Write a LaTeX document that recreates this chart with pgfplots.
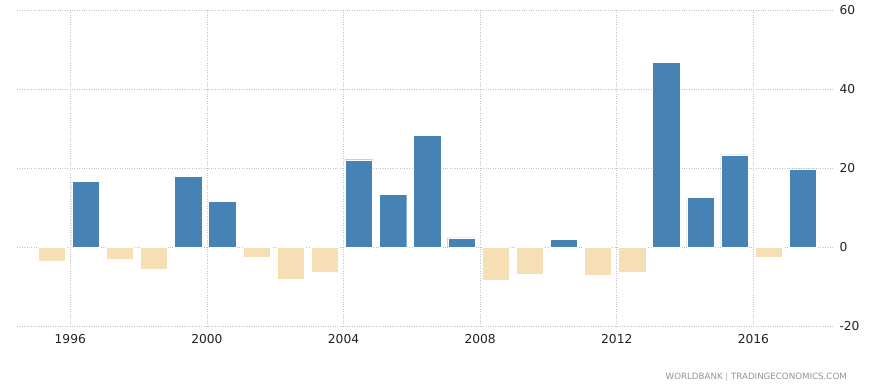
\documentclass[border=0pt]{standalone}
\usepackage{pgfplots}
\pgfplotsset{compat=1.18}
\usepackage{fontspec}
\setmainfont{DejaVu Sans}
\definecolor{barblue}{HTML}{4682B4}
\definecolor{barneg}{HTML}{F6DFB4}
\definecolor{gridc}{HTML}{C4C4C4}
\definecolor{labc}{HTML}{222222}
\begin{document}
\begin{tikzpicture}
\path[use as bounding box] (0,0) rectangle (882bp,385bp);
\begin{axis}[
  at={(17bp,59bp)}, anchor=south west,
  scale only axis, width=816bp, height=316bp,
  xmin=1994.44, xmax=2018.33,
  ymin=-20, ymax=60,
  ytick={-20,0,20,40,60},
  xtick={1996,2000,2004,2008,2012,2016},
  xticklabels={1996,2000,2004,2008,2012,2016},
  yticklabel pos=right,
  axis line style={draw=none},
  major tick length=0pt,
  grid=major,
  major grid style={gridc, dotted, line width=0.8bp},
  /pgf/number format/assume math mode=true,
  tick label style={font=\fontsize{12.3}{14}\selectfont, text=labc},
  yticklabel style={anchor=west, xshift=3bp},
  xticklabel style={yshift=-5bp},
  ybar, bar width=0.8,
]
\addplot[fill=barblue, draw=white, line width=0.4bp, bar shift=0pt] coordinates {
(1996.45,16.6) (1999.45,17.9) (2000.45,11.5) (2004.45,22.1) (2005.45,13.4)
(2006.45,28.3) (2007.45,2.3) (2010.45,1.95) (2013.45,46.8) (2014.45,12.5)
(2015.45,23.3) (2017.45,19.8)
};
\addplot[fill=barneg, draw=white, line width=0.4bp, bar shift=0pt] coordinates {
(1995.45,-3.7) (1997.45,-3.05) (1998.45,-5.6) (2001.45,-2.5) (2002.45,-8.1)
(2003.45,-6.3) (2008.45,-8.5) (2009.45,-6.9) (2011.45,-7.2) (2012.45,-6.3)
(2016.45,-2.7)
};
\end{axis}
\node[anchor=base east, inner sep=0pt, text=gray!85, font=\fontsize{8.7}{10}\selectfont] at (847bp,6bp) {WORLDBANK {\color{gray!60}|} TRADINGECONOMICS.COM};
\end{tikzpicture}
\end{document}
